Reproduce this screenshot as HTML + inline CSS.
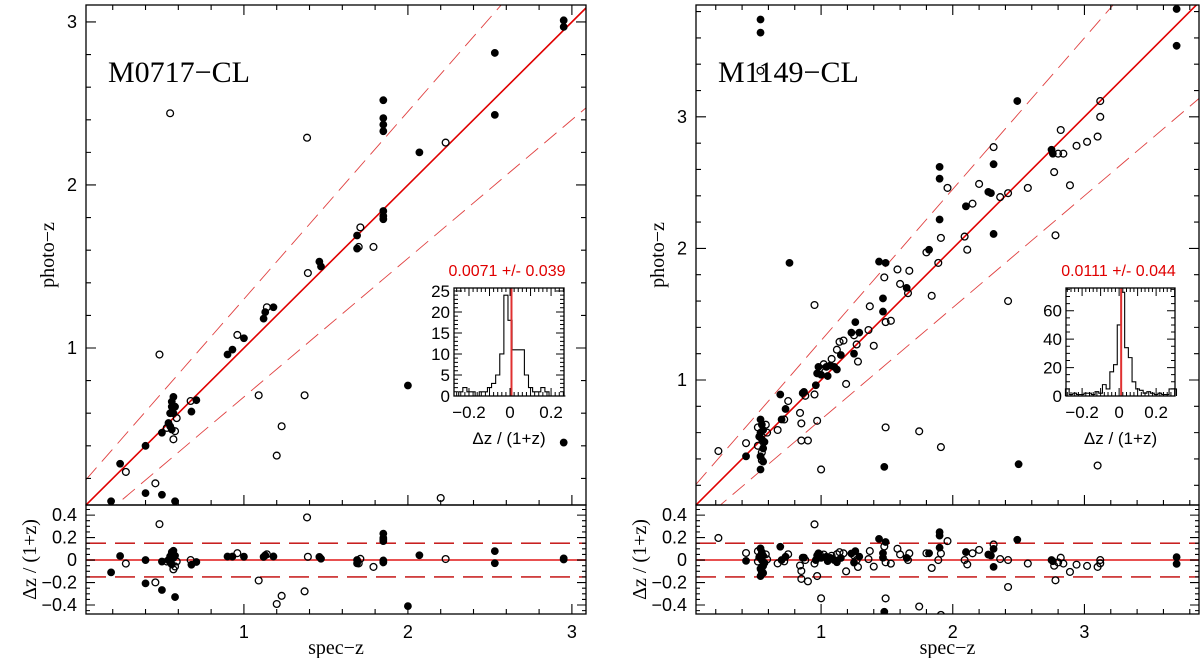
<!DOCTYPE html>
<html><head><meta charset="utf-8">
<style>
html,body{margin:0;padding:0;background:#fff;}
svg{display:block;}
.num{font-family:"Liberation Sans",sans-serif;font-size:18px;fill:#000;}
.lab{font-family:"Liberation Serif",serif;font-size:20px;fill:#000;}
.ttl{font-family:"Liberation Serif",serif;font-size:30px;fill:#000;}
.inum{font-family:"Liberation Sans",sans-serif;font-size:17px;fill:#000;}
.red{font-family:"Liberation Sans",sans-serif;font-size:16px;fill:#e00000;}
</style></head>
<body>
<svg id="fig" width="1200" height="658" viewBox="0 0 1200 658" xmlns="http://www.w3.org/2000/svg"></svg>
<script>
// ---------- M0717-CL data ----------
const L_spec  =[0.19,0.245,0.28,0.40,0.40,0.46,0.485,0.50,0.50,0.54,0.55,0.56,0.56,0.57,0.55,0.56,0.57,0.58,0.57,0.59,0.53,0.58,0.58,0.55,0.675,0.68,0.71,0.90,0.93,0.96,1.00,1.09,1.12,1.14,1.13,1.18,1.20,1.23,1.37,1.385,1.39,1.46,1.47,1.69,1.69,1.71,1.70,1.79,1.85,1.85,1.85,1.85,1.85,1.85,1.85,2.00,2.07,2.23,2.20,2.53,2.53,2.95,2.95,2.95];
const L_photo =[0.06,0.29,0.24,0.11,0.40,0.17,0.96,0.10,0.48,0.54,0.60,0.64,0.67,0.70,0.52,0.50,0.60,0.49,0.44,0.57,0.51,0.64,0.06,2.44,0.675,0.61,0.68,0.96,0.99,1.08,1.06,0.71,1.18,1.25,1.22,1.25,0.34,0.52,0.71,2.29,1.46,1.53,1.50,1.69,1.61,1.74,1.62,1.62,2.52,2.41,2.37,2.33,1.84,1.81,1.79,0.77,2.20,2.26,0.08,2.81,2.43,2.97,3.01,0.42];
const L_filled=[1,1,0,1,1,0,0,1,1,1,1,1,1,1,1,1,1,0,0,0,0,1,1,0,0,1,1,1,1,0,1,0,1,0,1,1,0,0,0,0,0,1,1,1,1,0,0,0,1,1,1,1,1,1,1,1,1,0,0,1,1,1,1,1];
const L_histCounts=[0,1,2,1,1,0,1,1,2,3,5,10,24,18,11,11,11,5,2,1,1,2,1,0,0,0,0];
const L_histStart=-0.27, L_histBin=0.02;
const L_stats="0.0071 +/- 0.039";
const L_mean=0.0071;

// ---------- M1149-CL data ----------
const R_spec  =[0.22,0.43,0.43,0.54,0.55,0.56,0.54,0.53,0.55,0.57,0.52,0.56,0.55,0.54,0.55,0.56,0.54,0.58,0.59,0.52,0.54,0.54,0.54,0.67,0.69,0.70,0.72,0.75,0.73,0.76,0.84,0.85,0.85,0.86,0.87,0.90,0.88,0.95,0.96,0.97,0.98,0.95,0.97,0.99,1.00,1.00,1.02,1.04,1.05,1.07,1.08,1.10,1.12,1.14,1.12,1.15,1.17,1.19,1.23,1.25,1.26,1.28,1.25,1.27,1.29,1.36,1.40,1.37,1.44,1.49,1.48,1.47,1.49,1.53,1.49,1.48,1.47,1.58,1.60,1.67,1.66,1.65,1.745,1.80,1.82,1.84,1.89,1.90,1.90,1.90,1.91,1.91,1.96,2.09,2.10,2.11,2.15,2.20,2.27,2.29,2.31,2.31,2.31,2.36,2.42,2.42,2.49,2.57,2.50,2.75,2.76,2.77,2.78,2.80,2.82,2.84,2.89,2.94,3.02,3.10,3.12,3.12,3.10,3.70,3.70];
const R_photo =[0.46,0.52,0.42,0.70,0.66,0.62,0.60,0.57,0.55,0.53,0.50,0.48,0.45,0.42,0.39,0.38,0.32,0.66,0.60,0.64,3.74,3.64,3.35,0.62,0.89,0.70,0.70,0.84,0.78,1.89,0.75,0.67,0.54,0.90,0.91,0.54,0.88,1.57,0.96,1.05,1.10,0.89,0.69,1.09,1.04,0.32,1.12,1.10,1.03,1.11,1.16,1.10,1.23,1.29,1.08,1.19,1.30,0.97,1.36,1.34,1.44,1.14,1.20,1.27,1.36,1.38,1.26,1.56,1.90,1.89,1.78,1.62,1.44,1.45,0.64,0.34,1.52,1.84,1.73,1.83,1.66,1.70,0.61,1.97,1.99,1.64,1.89,2.62,2.53,2.22,2.08,0.49,2.46,2.09,2.32,1.99,2.34,2.49,2.43,2.42,2.77,2.64,2.11,2.39,2.42,1.60,3.12,2.46,0.36,2.75,2.72,2.58,2.10,2.72,2.90,2.72,2.48,2.78,2.81,2.85,3.12,3.00,0.35,3.82,3.54];
const R_filled=[0,0,1,
 1,1,1,1,1,1,1,0,1,0,1,0,1,1,0,0,0,
 1,1,0,
 0,1,1,0,0,1,1,
 0,0,0,1,1,0,0,
 0,1,1,1,0,0,0,1,0,
 0,1,1,1,0,1,0,0,1,1,0,
 0,1,0,1,0,1,0,1,
 0,0,0,
 1,1,0,1,0,0,0,1,1,
 0,0,
 0,0,1,
 0,
 0,1,0,0,
 1,1,1,0,0,
 0,
 0,1,0,
 0,0,
 1,1,0,1,1,0,0,0,
 1,0,1,
 1,1,0,0,0,0,0,0,0,0,0,0,0,
 0,
 1,1];
const R_histCounts=[5,1,2,1,1,2,2,1,3,2,8,5,17,22,50,73,34,27,10,5,4,2,3,2,1,2,1,1,5,5];
const R_histStart=-0.29, R_histBin=0.02;
const R_stats="0.0111 +/- 0.044";
const R_mean=0.0111;

const NS="http://www.w3.org/2000/svg";
const svg=document.getElementById('fig');
function mk(tag,attrs,parent){const e=document.createElementNS(NS,tag);for(const k in attrs)e.setAttribute(k,attrs[k]);(parent||svg).appendChild(e);return e;}
function lin(d0,d1,r0,r1){return v=>r0+(v-d0)*(r1-r0)/(d1-d0);}
function txt(s,x,y,cls,anchor,parent,rot){const t=mk('text',{x:x,y:y,'class':cls,'text-anchor':anchor||'middle'},parent);if(rot)t.setAttribute('transform','rotate(-90 '+x+' '+y+')');t.textContent=s;return t;}
function fmt(v){const r=Math.round(v*100)/100;if(Math.abs(r)<1e-9)return '0';return (r<0?'\u2212':'')+Math.abs(r).toString();}

function panel(c){
  const g=mk('g',{});
  
  
  const X=lin(c.xd[0],c.xd[1],c.x0,c.x1);
  const Y=lin(c.yd[0],c.yd[1],c.yb,c.yt);
  const RY=lin(c.rd[0],c.rd[1],c.rb,c.yb);
  const cid=c.name+'-clip', rid=c.name+'-rclip';
  const cp=mk('clipPath',{id:cid},g); mk('rect',{x:c.x0,y:c.yt,width:c.x1-c.x0,height:c.yb-c.yt},cp);
  const rp=mk('clipPath',{id:rid},g); mk('rect',{x:c.x0,y:c.yb,width:c.x1-c.x0,height:c.rb-c.yb},rp);
  const mg=mk('g',{'clip-path':'url(#'+cid+')'},g);
  const a=c.xd[0], b=c.xd[1]+0.5;
  const one=mk('line',{x1:X(a),y1:Y(a),x2:X(b),y2:Y(b),stroke:'#e00000','stroke-width':1.6},mg);
  
  
  [0.15,-0.15].forEach(k=>{
    const l=mk('line',{x1:X(a),y1:Y(a+k*(1+a)),x2:X(b),y2:Y(b+k*(1+b)),stroke:'#e04040','stroke-width':0.9,'stroke-dasharray':'16 8'},mg);
    
    
  });
  const rg=mk('g',{'clip-path':'url(#'+rid+')'},g);
  const z=mk('line',{x1:c.x0,y1:RY(0),x2:c.x1,y2:RY(0),stroke:'#e85050','stroke-width':2},rg);
  
  
  [0.15,-0.15].forEach(k=>{
    const l=mk('line',{x1:c.x0,y1:RY(k),x2:c.x1,y2:RY(k),stroke:'#c00000','stroke-width':1.3,'stroke-dasharray':'20 9'},rg);
    
    
  });
  for(let i=0;i<c.spec.length;i++){
    const s=c.spec[i], p=c.photo[i], f=c.filled[i];
    const st=f?{fill:'#000',stroke:'#000','stroke-width':1}:{fill:'none',stroke:'#000','stroke-width':1.3};
    const pt=mk('circle',Object.assign({cx:X(s),cy:Y(p),r:3.4},st),mg);
    
    
    const r=(p-s)/(1+s);
    const rp2=mk('circle',Object.assign({cx:X(s),cy:RY(r),r:3.4},st),rg);
    
    
  }
  const fr=mk('rect',{x:c.x0,y:c.yt,width:c.x1-c.x0,height:c.yb-c.yt,fill:'none',stroke:'#000','stroke-width':1.3},g);
  
  
  const fr2=mk('rect',{x:c.x0,y:c.yb,width:c.x1-c.x0,height:c.rb-c.yb,fill:'none',stroke:'#000','stroke-width':1.3},g);
  
  
  let d='';
  for(let v=0;v<=c.xd[1]+1e-6;v=Math.round((v+0.2)*10)/10){
    if(v<c.xd[0])continue;
    const maj=Math.abs(v-Math.round(v))<1e-6, L=maj?10:5, x=X(v);
    d+=`M${x} ${c.yt}v${L}M${x} ${c.yb}v${-L}M${x} ${c.rb}v${-L}`;
    if(maj){const t=txt(fmt(v),x,c.rb+24,'num','middle',g);}
  }
  for(let v=0;v<=c.yd[1]+1e-6;v=Math.round((v+0.2)*10)/10){
    if(v<c.yd[0])continue;
    const maj=Math.abs(v-Math.round(v))<1e-6, L=maj?10:5, y=Y(v);
    d+=`M${c.x0} ${y}h${L}M${c.x1} ${y}h${-L}`;
    if(maj){const t=txt(fmt(v),c.x0-9,y+6,'num','end',g);}
  }
  for(let k=-9;k<=9;k++){
    const v=k*0.05; if(v<c.rd[0]||v>c.rd[1])continue;
    const maj=k%4===0, L=maj?9:4, y=RY(v);
    d+=`M${c.x0} ${y}h${L}M${c.x1} ${y}h${-L}`;
    if(maj){const t=txt(fmt(v),c.x0-9,y+6,'num','end',g);}
  }
  mk('path',{d:d,stroke:'#000','stroke-width':1.1,fill:'none'},g);
  const xl=txt('spec\u2212z',(c.x0+c.x1)/2,c.rb+40,'lab','middle',g);
  
  
  const yl=txt('photo\u2212z',c.x0-32,(c.yt+c.yb)/2,'lab','middle',g,true);
  
  
  const rl=txt('\u0394z  /  (1+z)',c.x0-50,(c.yb+c.rb)/2,'lab','middle',g,true);
  
  
  const tt=txt(c.title,c.x0+22,82,'ttl','start',g);
  
  
  const ig=mk('g',{},g);
  
  
  const HX=lin(c.hxd[0],c.hxd[1],c.hx0,c.hx1), HY=lin(0,c.hymax,c.hyb,c.hyt);
  mk('rect',{x:c.hx0,y:c.hyt,width:c.hx1-c.hx0,height:c.hyb-c.hyt,fill:'#fff'},ig);
  let hp='';
  c.hist.forEach((n,i)=>{const xa=HX(c.hs+i*c.hb), xb=HX(c.hs+(i+1)*c.hb), y=HY(n);hp+=(i===0?`M${xa} ${HY(0)}V${y}`:`V${y}`)+`H${xb}`;});
  hp+=`V${HY(0)}`;
  const hpath=mk('path',{d:hp,fill:'none',stroke:'#000','stroke-width':1.1},ig);
  
  
  const ml=mk('line',{x1:HX(c.mean),y1:c.hyt,x2:HX(c.mean),y2:c.hyb,stroke:'#e03030','stroke-width':2},ig);
  
  
  mk('rect',{x:c.hx0,y:c.hyt,width:c.hx1-c.hx0,height:c.hyb-c.hyt,fill:'none',stroke:'#000','stroke-width':1.3},ig);
  let td='';
  for(let k=-15;k<=15;k++){const v=k*0.02;if(v<c.hxd[0]||v>c.hxd[1])continue;const maj=k%5===0,L=maj?8:4,x=HX(v);td+=`M${x} ${c.hyb}v${-L}M${x} ${c.hyt}v${L}`;
    if(maj&&k%10===0){const t=txt(fmt(v),x,c.hyb+22,'inum','middle',ig);}}
  for(let v=0;v<=c.hymax;v+=c.hminor){const maj=Math.abs(v/c.hmajor-Math.round(v/c.hmajor))<1e-6,L=maj?8:4,y=HY(v);td+=`M${c.hx0} ${y}h${L}M${c.hx1} ${y}h${-L}`;
    if(maj){const t=txt(String(v),c.hx0-4,y+6,'inum','end',ig);}}
  mk('path',{d:td,stroke:'#000','stroke-width':1,fill:'none'},ig);
  const il=txt('\u0394z  /  (1+z)',(c.hx0+c.hx1)/2,c.hyb+48,'inum','middle',ig);
  
  
  const st=txt(c.stats,(c.hx0+c.hx1)/2-2,c.hyt-12,'red','middle',ig);
  
  
}

panel({name:'m0717',title:'M0717\u2212CL',x0:86,x1:586,yt:5,yb:505,rb:614,
  xd:[0.037,3.086],yd:[0.037,3.104],rd:[-0.48,0.49],
  spec:L_spec,photo:L_photo,filled:L_filled,
  hx0:454,hx1:564,hyt:288,hyb:396,hxd:[-0.273,0.263],hymax:25.7,hmajor:5,hminor:1,
  hist:L_histCounts,hs:L_histStart,hb:L_histBin,mean:L_mean,stats:L_stats});
panel({name:'m1149',title:'M1149\u2212CL',x0:696,x1:1199,yt:5,yb:505,rb:614,
  xd:[0.05,3.87],yd:[0.05,3.85],rd:[-0.48,0.49],
  spec:R_spec,photo:R_photo,filled:R_filled,
  hx0:1066,hx1:1175,hyt:288,hyb:396,hxd:[-0.287,0.302],hymax:76,hmajor:20,hminor:5,
  hist:R_histCounts,hs:R_histStart,hb:R_histBin,mean:R_mean,stats:R_stats});
</script>
</body></html>
